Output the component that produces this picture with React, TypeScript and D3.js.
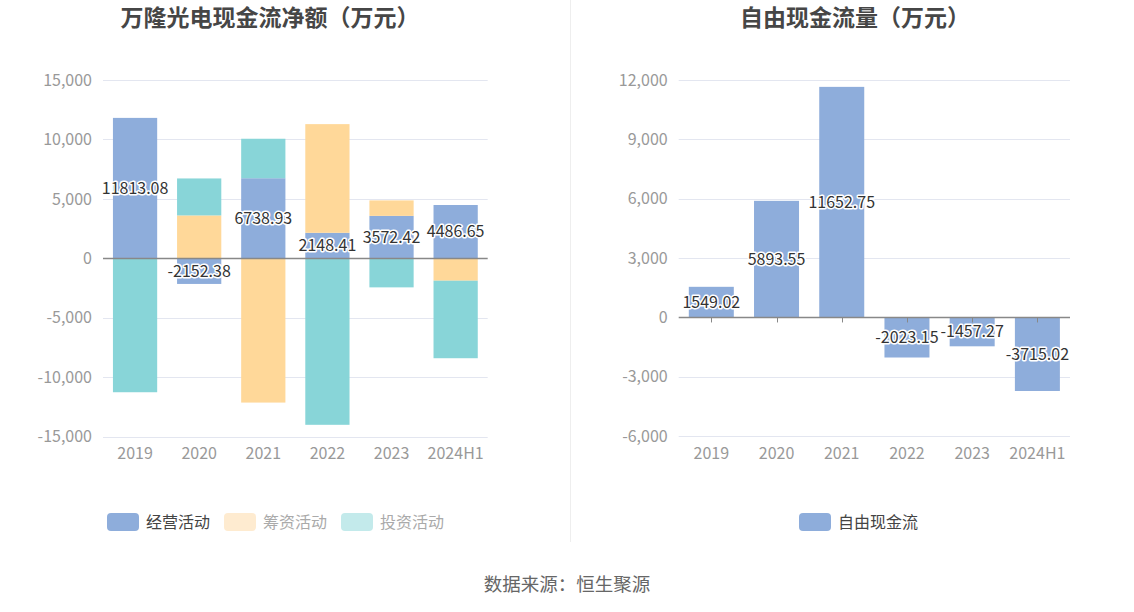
import * as d3 from "d3";
import { useEffect, useRef } from "react";

const years = ["2019", "2020", "2021", "2022", "2023", "2024H1"];
const operating = [11813.08, -2152.38, 6738.93, 2148.41, 3572.42, 4486.65];
const financing = [0, 3610, -12130, 9140, 1300, -1880];
const investing = [-11260, 3110, 3320, -14000, -2440, -6520];
const freeCash = [1549.02, 5893.55, 11652.75, -2023.15, -1457.27, -3715.02];
const leftTicks = [-15000, -10000, -5000, 0, 5000, 10000, 15000];
const rightTicks = [-6000, -3000, 0, 3000, 6000, 9000, 12000];

const W = 1134;
const H = 612;
const FONT = "'Noto Sans CJK SC', 'Noto Sans', sans-serif";
const C_OP = "#8eaddb";
const C_FIN = "#ffd899";
const C_INV = "#88d5d8";

const fmtTick = d3.formatLocale({ decimal: ".", thousands: ",", grouping: [3], currency: ["", ""], minus: "-" }).format(",");

export default function App() {
  const svgRef = useRef<SVGSVGElement | null>(null);

  useEffect(() => {
    if (!svgRef.current) return;
    const svg = d3.select(svgRef.current);
    svg.selectAll("*").remove();

    svg.append("rect").attr("width", W).attr("height", H).attr("fill", "#fff");

    // divider
    svg.append("line")
      .attr("x1", 570.5).attr("x2", 570.5).attr("y1", 0).attr("y2", 542)
      .attr("stroke", "#eeeeee");

    const drawAxes = (
      g: d3.Selection<SVGGElement, unknown, null, undefined>,
      x: d3.ScaleBand<string>,
      y: d3.ScaleLinear<number, number>,
      ticks: number[]
    ) => {
      const [x0, x1] = x.range();
      g.selectAll(".grid")
        .data(ticks.filter((t) => t !== 0))
        .join("line")
        .attr("x1", x0).attr("x2", x1)
        .attr("y1", (d) => Math.round(y(d)) + 0.5)
        .attr("y2", (d) => Math.round(y(d)) + 0.5)
        .attr("stroke", "#e3e6f0");
      g.selectAll(".ytick")
        .data(ticks)
        .join("text")
        .attr("x", x0 - 11)
        .attr("y", (d) => y(d))
        .attr("dy", "0.35em")
        .attr("text-anchor", "end")
        .attr("font-size", 16)
        .attr("fill", "#999")
        .text((d) => fmtTick(d));
      g.selectAll(".xtick")
        .data(x.domain())
        .join("text")
        .attr("x", (d) => x(d)! + x.bandwidth() / 2)
        .attr("y", y.range()[0] + 17)
        .attr("dy", "0.35em")
        .attr("text-anchor", "middle")
        .attr("font-size", 16)
        .attr("fill", "#999")
        .text((d) => d);
    };

    const drawZero = (
      g: d3.Selection<SVGGElement, unknown, null, undefined>,
      x: d3.ScaleBand<string>,
      y: d3.ScaleLinear<number, number>
    ) => {
      const [x0, x1] = x.range();
      const y0 = Math.round(y(0)) + 0.5;
      g.append("line")
        .attr("x1", x0).attr("x2", x1).attr("y1", y0).attr("y2", y0)
        .attr("stroke", "#888").attr("stroke-width", 1.5);
    };

    const label = (
      g: d3.Selection<SVGGElement, unknown, null, undefined>,
      cx: number,
      cy: number,
      text: string
    ) => {
      g.append("text")
        .attr("x", cx).attr("y", cy).attr("dy", "0.35em")
        .attr("text-anchor", "middle")
        .attr("font-size", 16)
        .attr("fill", "#333")
        .attr("stroke", "#fff")
        .attr("stroke-width", 3)
        .attr("stroke-linejoin", "round")
        .attr("paint-order", "stroke")
        .text(text);
    };

    // Left chart: operating / financing / investing stacked
    const xL = d3.scaleBand().domain(years).range([103, 487.7]).paddingInner(0.31).paddingOuter(0.155);
    const yL = d3.scaleLinear().domain([-15000, 15000]).range([436.7, 80]);
    const gL = svg.append("g");
    drawAxes(gL, xL, yL, leftTicks);

    const series = [
      { name: "经营活动", values: operating, color: C_OP },
      { name: "筹资活动", values: financing, color: C_FIN },
      { name: "投资活动", values: investing, color: C_INV },
    ];
    years.forEach((yr, i) => {
      let pos = 0;
      let neg = 0;
      series.forEach((s) => {
        const v = s.values[i];
        if (v === 0) return;
        let a: number, b: number;
        if (v > 0) { a = pos; b = pos + v; pos = b; } else { a = neg; b = neg + v; neg = b; }
        const top = yL(Math.max(a, b));
        const bot = yL(Math.min(a, b));
        gL.append("rect")
          .attr("x", xL(yr)!).attr("width", xL.bandwidth())
          .attr("y", top).attr("height", bot - top)
          .attr("fill", s.color);
      });
    });
    drawZero(gL, xL, yL);
    years.forEach((yr, i) => {
      label(gL, xL(yr)! + xL.bandwidth() / 2, yL(operating[i] / 2), operating[i].toFixed(2));
    });

    // Right chart: free cash flow
    const xR = d3.scaleBand().domain(years).range([678.7, 1070]).paddingInner(0.31).paddingOuter(0.155);
    const yR = d3.scaleLinear().domain([-6000, 12000]).range([436.2, 80]);
    const gR = svg.append("g");
    drawAxes(gR, xR, yR, rightTicks);
    years.forEach((yr, i) => {
      const v = freeCash[i];
      const top = yR(Math.max(0, v));
      const bot = yR(Math.min(0, v));
      gR.append("rect")
        .attr("x", xR(yr)!).attr("width", xR.bandwidth())
        .attr("y", top).attr("height", bot - top)
        .attr("fill", C_OP);
    });
    drawZero(gR, xR, yR);
    gR.selectAll(".tk")
      .data(years)
      .join("line")
      .attr("x1", (d) => Math.round(xR(d)! + xR.bandwidth() / 2) + 0.5)
      .attr("x2", (d) => Math.round(xR(d)! + xR.bandwidth() / 2) + 0.5)
      .attr("y1", yR(0)).attr("y2", yR(0) + 5)
      .attr("stroke", "#888");
    years.forEach((yr, i) => {
      label(gR, xR(yr)! + xR.bandwidth() / 2, yR(freeCash[i] / 2), freeCash[i].toFixed(2));
    });

    // Titles
    svg.append("text").attr("x", 270).attr("y", 18).attr("dy", "0.35em")
      .attr("text-anchor", "middle").attr("font-size", 23).attr("font-weight", "bold")
      .attr("fill", "#464646").text("万隆光电现金流净额（万元）");
    svg.append("text").attr("x", 855).attr("y", 18).attr("dy", "0.35em")
      .attr("text-anchor", "middle").attr("font-size", 23).attr("font-weight", "bold")
      .attr("fill", "#464646").text("自由现金流量（万元）");

    // Legends
    const legendItems = [
      { name: "经营活动", color: C_OP, text: "#444", x: 107 },
      { name: "筹资活动", color: "#feebd0", text: "#aaa", x: 224 },
      { name: "投资活动", color: "#c3eaeb", text: "#aaa", x: 341 },
      { name: "自由现金流", color: C_OP, text: "#444", x: 799 },
    ];
    const lg = svg.selectAll(".legend")
      .data(legendItems)
      .join("g")
      .attr("transform", (d) => `translate(${d.x}, 513)`);
    lg.append("rect").attr("width", 32).attr("height", 18).attr("rx", 4).attr("fill", (d) => d.color);
    lg.append("text").attr("x", 39).attr("y", 9).attr("dy", "0.35em")
      .attr("font-size", 16).attr("fill", (d) => d.text).text((d) => d.name);

    // Source
    svg.append("text").attr("x", 567).attr("y", 585).attr("dy", "0.35em")
      .attr("text-anchor", "middle").attr("font-size", 18.5).attr("fill", "#666")
      .text("数据来源：恒生聚源");
  }, []);

  return (
    <div style={{ position: "fixed", left: 0, top: 0 }}>
      <svg ref={svgRef} width={W} height={H} style={{ display: "block", fontFamily: FONT }} />
    </div>
  );
}
